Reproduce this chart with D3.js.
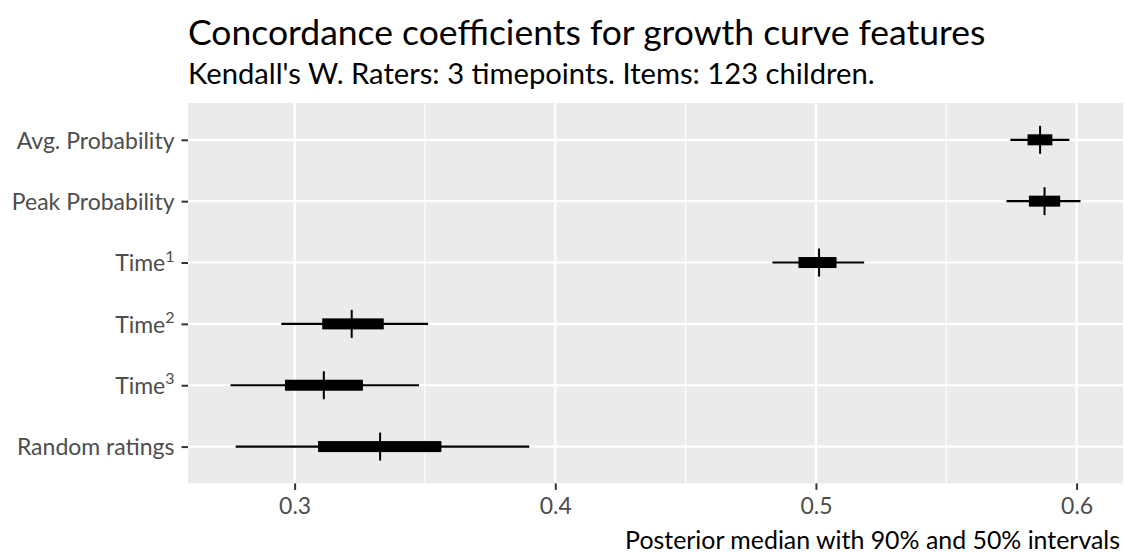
<!DOCTYPE html>
<html>
<head>
<meta charset="utf-8">
<script src="https://cdn.jsdelivr.net/npm/d3@7"></script>
<style>
  html, body { margin: 0; padding: 0; background: #fff; }
  svg { display: block; font-family: Lato, "Open Sans", sans-serif; }
</style>
</head>
<body>
<svg id="chart" width="1125" height="554"></svg>
<script>
// Feature names (top to bottom) and optional superscript for the label
const features = ["Avg. Probability", "Peak Probability", "Time1", "Time2", "Time3", "Random ratings"];
const labelBase = ["Avg. Probability", "Peak Probability", "Time", "Time", "Time", "Random ratings"];
const labelSup  = ["", "", "1", "2", "3", ""];

// Posterior summaries of Kendall's W
const median = [0.5860, 0.5877, 0.5012, 0.3219, 0.3112, 0.3328];
const lo50   = [0.5812, 0.5817, 0.4933, 0.3106, 0.2963, 0.3090];
const hi50   = [0.5907, 0.5937, 0.5079, 0.3342, 0.3262, 0.3563];
const lo90   = [0.5746, 0.5731, 0.4833, 0.2949, 0.2754, 0.2774];
const hi90   = [0.5972, 0.6015, 0.5185, 0.3512, 0.3477, 0.3900];

const majorTicks = [0.3, 0.4, 0.5, 0.6];
const minorTicks = [0.35, 0.45, 0.55];

const rows = features.map((f, i) => ({
  f, base: labelBase[i], sup: labelSup[i],
  m: median[i], l50: lo50[i], h50: hi50[i], l90: lo90[i], h90: hi90[i]
}));

const svg = d3.select("#chart");
const panel = { left: 188, right: 1123, top: 103, bottom: 483.4 };

// Continuous scale with 5% expansion on each side of the data range
const dmin = d3.min(lo90), dmax = d3.max(hi90);
const pad = (dmax - dmin) * 0.05;
const x = d3.scaleLinear().domain([dmin - pad, dmax + pad]).range([panel.left, panel.right]);
const y = d3.scalePoint().domain(features).range([panel.top, panel.bottom]).padding(0.6);

// Panel background
svg.append("rect")
  .attr("x", panel.left).attr("y", panel.top)
  .attr("width", panel.right - panel.left).attr("height", panel.bottom - panel.top)
  .attr("fill", "#EBEBEB");

// Grid lines
const grid = svg.append("g");
grid.selectAll(".minor").data(minorTicks).join("line")
  .attr("x1", d => x(d)).attr("x2", d => x(d))
  .attr("y1", panel.top).attr("y2", panel.bottom)
  .attr("stroke", "#fff").attr("stroke-width", 1.1);
grid.selectAll(".majorx").data(majorTicks).join("line")
  .attr("x1", d => x(d)).attr("x2", d => x(d))
  .attr("y1", panel.top).attr("y2", panel.bottom)
  .attr("stroke", "#fff").attr("stroke-width", 2.2);
grid.selectAll(".majory").data(features).join("line")
  .attr("x1", panel.left).attr("x2", panel.right)
  .attr("y1", d => y(d)).attr("y2", d => y(d))
  .attr("stroke", "#fff").attr("stroke-width", 2.2);

// Intervals: 90% line, 50% box, median tick
const marks = svg.append("g");
marks.selectAll(".ci90").data(rows).join("line")
  .attr("x1", d => x(d.l90)).attr("x2", d => x(d.h90))
  .attr("y1", d => y(d.f)).attr("y2", d => y(d.f))
  .attr("stroke", "#000").attr("stroke-width", 2.2);
marks.selectAll(".ci50").data(rows).join("rect")
  .attr("x", d => x(d.l50)).attr("width", d => x(d.h50) - x(d.l50))
  .attr("y", d => y(d.f) - 5.5).attr("height", 11)
  .attr("fill", "#000");
marks.selectAll(".med").data(rows).join("line")
  .attr("x1", d => x(d.m)).attr("x2", d => x(d.m))
  .attr("y1", d => y(d.f) - 14).attr("y2", d => y(d.f) + 14)
  .attr("stroke", "#000").attr("stroke-width", 2);

// X axis
const xAxis = svg.append("g")
  .attr("transform", `translate(0,${panel.bottom})`)
  .call(d3.axisBottom(x).tickValues(majorTicks).tickFormat(d3.format(".1f")).tickSize(6.5).tickPadding(8));
xAxis.select(".domain").remove();
xAxis.selectAll(".tick line").attr("stroke", "#333").attr("stroke-width", 2);
xAxis.selectAll(".tick text").attr("fill", "#4D4D4D").attr("font-size", 23).attr("font-family", "Lato");

// Y axis with superscripted labels
const yAxis = svg.append("g")
  .attr("transform", `translate(${panel.left},0)`)
  .call(d3.axisLeft(y).tickSize(6.5).tickPadding(7).tickFormat(() => ""));
yAxis.select(".domain").remove();
yAxis.selectAll(".tick line").attr("stroke", "#333").attr("stroke-width", 2);
yAxis.selectAll(".tick text").each(function(d, i) {
  const t = d3.select(this)
    .attr("fill", "#4D4D4D").attr("font-size", 23).attr("font-family", "Lato")
    .attr("dy", "0.36em");
  const r = rows[i];
  t.append("tspan").text(r.base);
  if (r.sup) {
    t.append("tspan").attr("font-size", 16).attr("dy", "-0.6em").text(r.sup);
  }
});

// Titles
svg.append("text").attr("x", 188).attr("y", 45)
  .attr("font-size", 35.5).attr("fill", "#000").attr("font-family", "Lato")
  .text("Concordance coefficients for growth curve features");
svg.append("text").attr("x", 188).attr("y", 84)
  .attr("font-size", 29.2).attr("fill", "#000").attr("font-family", "Lato")
  .text("Kendall's W. Raters: 3 timepoints. Items: 123 children.");

// Caption
svg.append("text").attr("x", 1120).attr("y", 549)
  .attr("text-anchor", "end")
  .attr("font-size", 24.9).attr("fill", "#000").attr("font-family", "Lato")
  .text("Posterior median with 90% and 50% intervals");
</script>
</body>
</html>
